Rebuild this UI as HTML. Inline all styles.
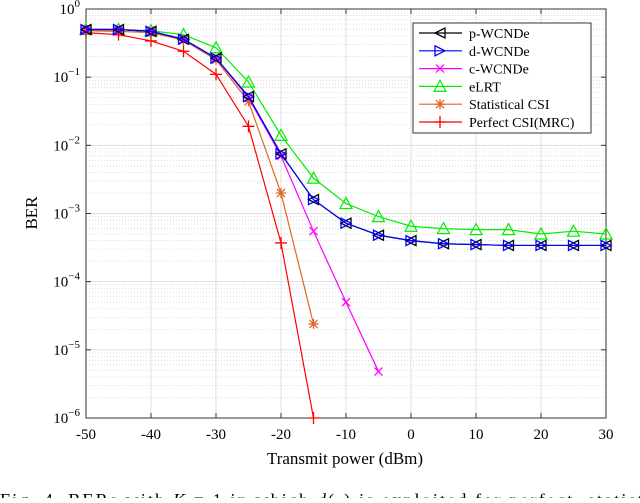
<!DOCTYPE html>
<html><head><meta charset="utf-8"><style>
body{margin:0;background:#fff;width:640px;height:498px;overflow:hidden;font-family:"Liberation Serif",serif}
svg text{font-family:"Liberation Serif",serif}
</style></head><body>
<svg id="chart" width="640" height="498" xmlns="http://www.w3.org/2000/svg">
<g id="grid"></g>
<g id="axes"></g>
<g id="series"></g>
<g id="legend"></g>
<text x="345" y="464" font-size="17" text-anchor="middle">Transmit power (dBm)</text>
<text transform="translate(37,213) rotate(-90)" font-size="17" text-anchor="middle">BER</text>
<text x="0" y="506" font-size="18" textLength="660">Fig. 4.   BERs with <tspan font-style="italic">K</tspan> = 1 in which <tspan font-style="italic">d</tspan>(·) is exploited for perfect, statistic</text>
</svg>
<script>
const xTicks=[-50,-40,-30,-20,-10,0,10,20,30];
const yExps=[0,-1,-2,-3,-4,-5,-6];
const xVals=[-50,-45,-40,-35,-30,-25,-20,-15,-10,-5,0,5,10,15,20,25,30];
const pWCNDe=[0.5,0.5,0.47,0.36,0.19,0.052,0.0075,0.0016,0.00072,0.00048,0.0004,0.00036,0.00035,0.00034,0.00034,0.00034,0.00034];
const dWCNDe=[0.5,0.5,0.47,0.36,0.19,0.052,0.0075,0.0016,0.00072,0.00048,0.0004,0.00036,0.00035,0.00034,0.00034,0.00034,0.00034];
const cWCNDe=[0.5,0.5,0.47,0.36,0.19,0.05,0.007,0.00055,0.00005,0.0000048];
const eLRT=[0.5,0.5,0.48,0.42,0.27,0.085,0.014,0.0033,0.0014,0.0009,0.00065,0.0006,0.00058,0.00058,0.0005,0.00055,0.0005];
const statCSI=[0.48,0.47,0.45,0.35,0.18,0.044,0.002,0.000024];
const perfCSI=[0.45,0.42,0.34,0.24,0.11,0.019,0.00037,0.000001];
const L=86,R=606,T=9,B=418;
const NS='http://www.w3.org/2000/svg';
function X(v){return L+(v+50)/80*(R-L);}
function Y(v){return T+(-Math.log10(v))/6*(B-T);}
function mk(tag,attrs,parent){const e=document.createElementNS(NS,tag);for(const k in attrs)e.setAttribute(k,attrs[k]);parent.appendChild(e);return e;}
const grid=document.getElementById('grid'),axes=document.getElementById('axes'),ser=document.getElementById('series'),leg=document.getElementById('legend');
for(let d=0;d<6;d++){for(let m=2;m<=9;m++){const y=Y(m*Math.pow(10,-d-1));
const l=mk('line',{x1:L,x2:R,y1:y,y2:y,stroke:'#ccc','stroke-width':0.7,'stroke-dasharray':'1,2'},grid);

}}
yExps.forEach(e=>{const y=Y(Math.pow(10,e));
const l=mk('line',{x1:L,x2:R,y1:y,y2:y,stroke:'#e0e0e0','stroke-width':1},grid);


const t=mk('text',{x:L-6,y:y+5,'font-size':15,'text-anchor':'end'},axes);


t.textContent='10';const s=mk('tspan',{dy:-7,'font-size':11},t);s.textContent=e===0?'0':'\u2212'+(-e);
mk('line',{x1:L,x2:L+5,y1:y,y2:y,stroke:'#333'},axes);mk('line',{x1:R,x2:R-5,y1:y,y2:y,stroke:'#333'},axes);});
xTicks.forEach(v=>{const x=X(v);
const l=mk('line',{x1:x,x2:x,y1:T,y2:B,stroke:'#e0e0e0','stroke-width':1},grid);


mk('line',{x1:x,x2:x,y1:B,y2:B-5,stroke:'#333'},axes);mk('line',{x1:x,x2:x,y1:T,y2:T+5,stroke:'#333'},axes);
const t=mk('text',{x:x,y:B+21,'font-size':15,'text-anchor':'middle'},axes);


t.textContent=String(v);});
const box=mk('rect',{x:L,y:T,width:R-L,height:B-T,fill:'none',stroke:'#333','stroke-width':1},axes);


function marker(type,x,y,c,g){const s=5;
if(type==='tl')mk('polygon',{points:`${x-s},${y} ${x+s},${y-s} ${x+s},${y+s}`,fill:'none',stroke:c,'stroke-width':1.3},g);
else if(type==='tr')mk('polygon',{points:`${x+s},${y} ${x-s},${y-s} ${x-s},${y+s}`,fill:'none',stroke:c,'stroke-width':1.3},g);
else if(type==='tu')mk('polygon',{points:`${x},${y-6} ${x-6},${y+5} ${x+6},${y+5}`,fill:'none',stroke:c,'stroke-width':1.2},g);
else if(type==='x'){mk('path',{d:`M${x-4},${y-4}L${x+4},${y+4}M${x-4},${y+4}L${x+4},${y-4}`,stroke:c,'stroke-width':1.3},g);}
else if(type==='star'){mk('path',{d:`M${x-5},${y}L${x+5},${y}M${x},${y-5}L${x},${y+5}M${x-4},${y-4}L${x+4},${y+4}M${x-4},${y+4}L${x+4},${y-4}`,stroke:c,'stroke-width':1.3},g);}
else if(type==='plus'){mk('path',{d:`M${x-6},${y}L${x+6},${y}M${x},${y-6}L${x},${y+6}`,stroke:c,'stroke-width':1.3},g);}}
const defs=[['p-WCNDe',pWCNDe,'#000','tl'],['d-WCNDe',dWCNDe,'#0000ff','tr'],['c-WCNDe',cWCNDe,'#ff00ff','x'],['eLRT',eLRT,'#00ee00','tu'],['Statistical CSI',statCSI,'#e0672a','star'],['Perfect CSI(MRC)',perfCSI,'#ff0000','plus']];
const order=[3,4,5,2,0,1];
order.forEach(i=>{const [name,vals,c,m]=defs[i];
const g=mk('g',{},ser);


const pts=vals.map((v,j)=>X(xVals[j])+','+Y(v)).join(' ');
mk('polyline',{points:pts,fill:'none',stroke:c,'stroke-width':1.2},g);
vals.forEach((v,j)=>marker(m,X(xVals[j]),Y(v),c,g));});
const lb=mk('rect',{x:413,y:23,width:178,height:110,fill:'#fff',stroke:'#333','stroke-width':1},leg);


defs.forEach((d,i)=>{const y=33+i*17.8;const g=mk('g',{},leg);


mk('line',{x1:419,x2:462,y1:y,y2:y,stroke:d[2],'stroke-width':1.2},g);
marker(d[3],440,y,d[2],g);
const t=mk('text',{x:469,y:y+5,'font-size':14},g);t.textContent=d[0];});
</script>
</body></html>
